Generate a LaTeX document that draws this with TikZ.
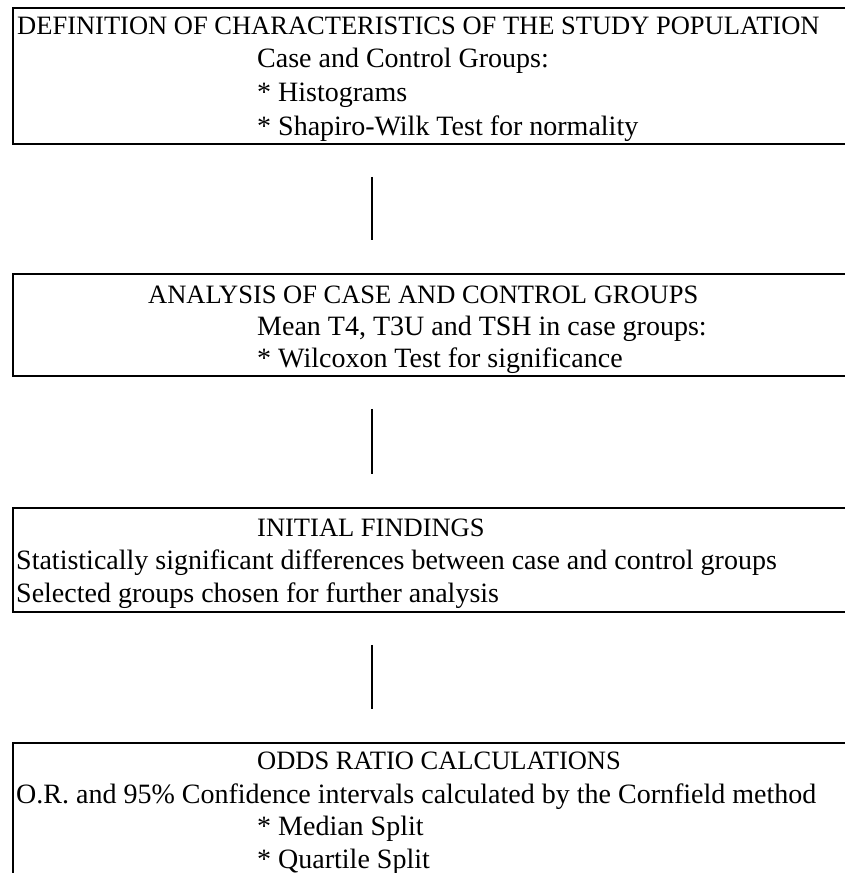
\documentclass[tikz,border=0pt]{standalone}
\usepackage{fontspec}
\setmainfont{Liberation Serif}
\usetikzlibrary{positioning}
\tikzset{
  stage/.style={draw, line width=1.5pt, minimum width=857pt, inner sep=0pt},
  txt/.style={anchor=base west, inner sep=0pt, font=\fontsize{28}{32}\selectfont},
  head/.style={txt, font=\fontsize{26.5}{30}\selectfont},
  link/.style={line width=1.3pt, shorten <=32pt, shorten >=33pt}
}

\begin{document}
\begin{tikzpicture}[x=1pt, y=-1pt]
  \clip (0,0) rectangle (845,873);

  % boxes (right side runs off the page)
  \node[stage, minimum height=136pt] (def) at (441.5,76) {};
  \node[stage, minimum height=102pt] (ana) at (441.5,325) {};
  \node[stage, minimum height=104pt] (ini) at (441.5,560) {};
  \node[stage, minimum height=147pt] (odd) at (441.5,816.5) {};

  % text of first box
  \node[head] (defA) at (17,34) {DEFINITION OF CHARACTERISTICS OF THE STUDY POPULATION};
  \node[txt] (defB) at (257,67) {Case and Control Groups:};
  \node[txt] (defC) at (257,101) {* Histograms};
  \node[txt] (defD) at (257,135) {* Shapiro-Wilk Test for normality};

  % text of second box
  \node[head] (anaA) at (148,303) {ANALYSIS OF CASE AND CONTROL GROUPS};
  \node[txt] (anaB) at (257,335) {Mean T4, T3U and TSH in case groups:};
  \node[txt] (anaC) at (257,367) {* Wilcoxon Test for significance};

  % text of third box
  \node[head] (iniA) at (257,536) {INITIAL FINDINGS};
  \node[txt] (iniB) at (16,569) {Statistically significant differences between case and control groups};
  \node[txt] (iniC) at (16,602) {Selected groups chosen for further analysis};

  % text of fourth box
  \node[head] (oddA) at (257,769) {ODDS RATIO CALCULATIONS};
  \node[txt] (oddB) at (16,803) {O.R. and 95\% Confidence intervals calculated by the Cornfield method};
  \node[txt] (oddC) at (257,835) {* Median Split};
  \node[txt] (oddD) at (257,868) {* Quartile Split};

  % connectors
  \draw[link] ([xshift=-69.5pt]def.south) -- ([xshift=-69.5pt]ana.north);
  \draw[link] ([xshift=-69.5pt]ana.south) -- ([xshift=-69.5pt]ini.north);
  \draw[link] ([xshift=-69.5pt]ini.south) -- ([xshift=-69.5pt]odd.north);
\end{tikzpicture}
\end{document}
